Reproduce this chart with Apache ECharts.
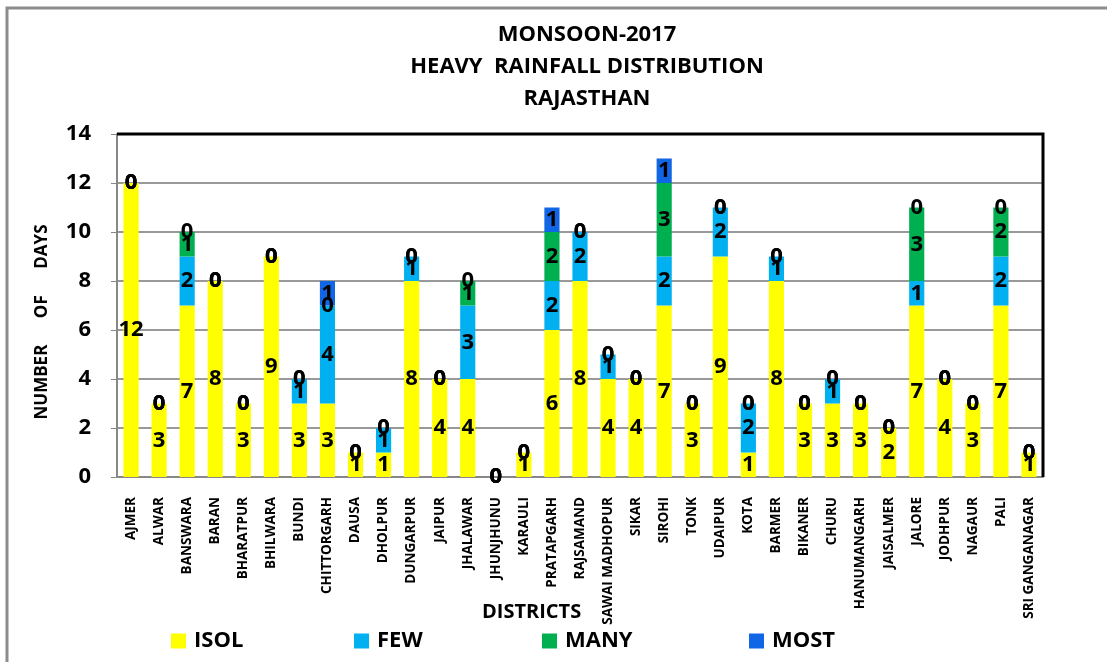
<!DOCTYPE html>
<html>
<head>
<meta charset="utf-8">
<script src="https://cdn.jsdelivr.net/npm/echarts@6/dist/echarts.min.js"></script>
<style>html,body{margin:0;padding:0;background:#fff;}#c{width:1107px;height:662px;}</style>
</head>
<body>
<div id="c"></div>
<script>
const districts = ["AJMER","ALWAR","BANSWARA","BARAN","BHARATPUR","BHILWARA","BUNDI","CHITTORGARH","DAUSA","DHOLPUR","DUNGARPUR","JAIPUR","JHALAWAR","JHUNJHUNU","KARAULI","PRATAPGARH","RAJSAMAND","SAWAI MADHOPUR","SIKAR","SIROHI","TONK","UDAIPUR","KOTA","BARMER","BIKANER","CHURU","HANUMANGARH","JAISALMER","JALORE","JODHPUR","NAGAUR","PALI","SRI GANGANAGAR"];
const isol = [12,3,7,8,3,9,3,3,1,1,8,4,4,0,1,6,8,4,4,7,3,9,1,8,3,3,3,2,7,4,3,7,1];
const few  = [0,0,2,0,0,0,1,4,0,1,1,0,3,0,0,2,2,1,0,2,0,2,2,1,0,1,0,0,1,0,0,2,0];
const many = [0,0,1,0,0,0,0,0,0,0,0,0,1,0,0,2,0,0,0,3,0,0,0,0,0,0,0,0,3,0,0,2,0];
const most = [0,0,0,0,0,0,0,1,0,0,0,0,0,0,0,1,0,0,0,1,0,0,0,0,0,0,0,0,0,0,0,0,0];
const yTicks = [0,2,4,6,8,10,12,14];
const seriesNames = ['ISOL','FEW','MANY','MOST'];

const FONT = '"Open Sans", "Noto Sans", sans-serif';
const chart = echarts.init(document.getElementById('c'), null, {renderer:'canvas'});

function mk(name, data, color) {
  return {
    name: name, type: 'bar', stack: 'a', data: data, barWidth: '54%',
    itemStyle: {color: color},
    label: {show: true, position: 'inside', color: '#000', fontFamily: FONT, fontWeight: 'bold', fontSize: 22,
      formatter: p => String(p.value)},
    labelLayout: {hideOverlap: false},
    emphasis: {disabled: true}
  };
}

const legendLefts = [171, 354, 542, 749];
const legends = seriesNames.map((n, i) => ({
  data: [n], left: legendLefts[i], top: 630, padding: 0, itemWidth: 15, itemHeight: 15, itemGap: 0, icon: 'rect',
  textStyle: {fontFamily: FONT, fontWeight: 'bold', fontSize: 22, color: '#000', padding: [0, 0, 0, 3]}
}));

chart.setOption({
  animation: false,
  title: {
    text: 'MONSOON-2017\nHEAVY  RAINFALL DISTRIBUTION\nRAJASTHAN',
    left: 582, top: 14, textAlign: 'center',
    textStyle: {fontFamily: FONT, fontWeight: 'bold', fontSize: 22, lineHeight: 32, color: '#000'}
  },
  legend: legends,
  grid: {left: 117, right: 64, top: 134, bottom: 185},
  xAxis: {
    type: 'category', data: districts,
    axisLine: {lineStyle: {color: '#888', width: 2}},
    axisTick: {show: false},
    axisLabel: {rotate: 90, interval: 0, margin: 20, fontFamily: FONT, fontWeight: 'bold', fontSize: 13.5, color: '#000'}
  },
  yAxis: {
    type: 'value', min: 0, max: 14, interval: 2,
    axisLine: {show: true, lineStyle: {color: '#888', width: 2}},
    axisTick: {show: true, length: 6, lineStyle: {color: '#888'}},
    axisLabel: {margin: 26, fontFamily: FONT, fontWeight: 'bold', fontSize: 22, color: '#000',
      formatter: v => yTicks.includes(v) ? String(v) : ''},
    splitLine: {lineStyle: {color: '#999', width: 2}}
  },
  graphic: [
    {type: 'rect', shape: {x: 7, y: 8, width: 1200, height: 800}, style: {fill: 'none', stroke: '#8c8c8c', lineWidth: 3}, z: -1},
    {type: 'polyline', shape: {points: [[117, 134], [1043, 134], [1043, 477]]}, style: {fill: 'none', stroke: '#000', lineWidth: 3}, z: 10},
    {type: 'text', left: 482, top: 602, style: {text: 'DISTRICTS', fontFamily: FONT, fontWeight: 'bold', fontSize: 20, fill: '#000'}},
    {type: 'text', x: 42, y: 322, rotation: Math.PI / 2,
      style: {text: 'NUMBER      OF      DAYS', fontFamily: FONT, fontWeight: 'bold', fontSize: 17, fill: '#000', align: 'center', verticalAlign: 'middle'}}
  ],
  series: [
    mk('ISOL', isol, '#FFFF00'),
    mk('FEW', few, '#00B0F0'),
    mk('MANY', many, '#00B050'),
    mk('MOST', most, '#1166E6')
  ]
});
</script>
</body>
</html>
